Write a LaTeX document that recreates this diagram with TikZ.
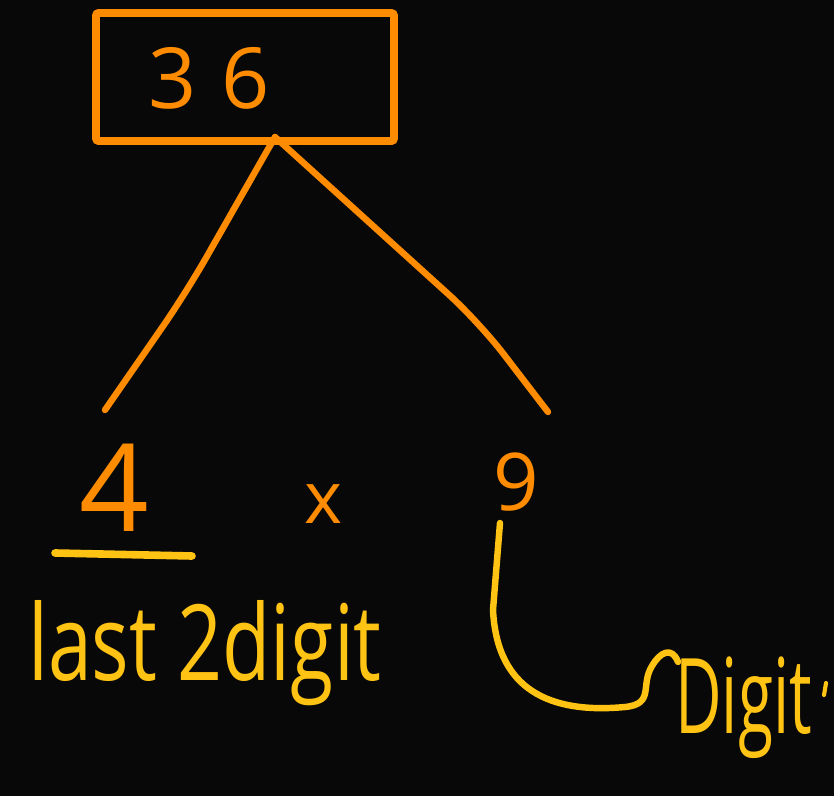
\documentclass[tikz,border=0pt]{standalone}
\usepackage{graphicx}
\usepackage{fontspec}
\setmainfont{Open Sans}
\usetikzlibrary{calc}
\definecolor{board}{RGB}{8,8,8}
\definecolor{penorange}{RGB}{255,140,0}
\definecolor{penyellow}{RGB}{255,195,20}
\begin{document}
\begin{tikzpicture}[x=0.03cm,y=-0.03cm,
  ink/.style={line width=5.5pt,line cap=round,line join=round},
  orangeink/.style={ink,draw=penorange},
  yellowink/.style={ink,draw=penyellow},
  numbox/.style={draw=penorange,line width=6.5pt,minimum width=8.94cm,
    minimum height=3.84cm,inner sep=0pt,rounded corners=2pt},
  digit/.style={text=penorange,inner sep=0pt,font=\fontsize{#1}{#1}\selectfont},
  note/.style={text=penyellow,inner sep=0pt,anchor=base west}]

% board
\fill[board] (0,0) rectangle (834,796);
\useasboundingbox (0,0) rectangle (834,796);

% the number in its box
\node[numbox] (box) at (245,77) {};
\node[digit=72] (n36) at (209,78) {3\hspace{0.3em}6};

% the two branches
\coordinate (apex)  at (275,137);
\coordinate (lbend) at (186,293);
\coordinate (lend)  at (105,410);
\coordinate (rbend) at (479,322);
\coordinate (rend)  at (548,412);
\draw[orangeink,rounded corners=1.2cm] (apex) -- (lbend) -- (lend);
\draw[orangeink,rounded corners=1.2cm] (apex) -- (rbend) -- (rend);

% factors
\node[digit=104] (four) at (114,488) {4};
\node[digit=62,anchor=base] (times) at (324,523) {x};
\node[digit=68] (nine) at (516,482) {9};

% underline and label under 4
\coordinate (ulstart) at (55,553);
\coordinate (ulend)   at (192,556);
\draw[yellowink,line width=6.5pt] (ulstart) -- (ulend);
\node[note] (last) at (28,680) {\resizebox{10.6cm}{2.4cm}{last 2digit}};

% hook from 9 to its label
\node[note] (digitlbl) at (675,733) {\resizebox{4.1cm}{2.3cm}{Digit}};
\coordinate (hook) at (500,523);
\coordinate (hookdown) at (493,610);
\coordinate (dtip) at (678,662);
\draw[yellowink] (hook) -- (hookdown)
  .. controls (497,690) and (550,714) .. (625,707)
  .. controls (655,704) and (640,685) .. (652,666)
  .. controls (660,652) and (672,646) .. (dtip);
\coordinate (ticktop) at (826,683);
\coordinate (tickbot) at (824,695);
\draw[yellowink,line width=3.5pt] (ticktop) -- (tickbot);
\end{tikzpicture}
\end{document}
